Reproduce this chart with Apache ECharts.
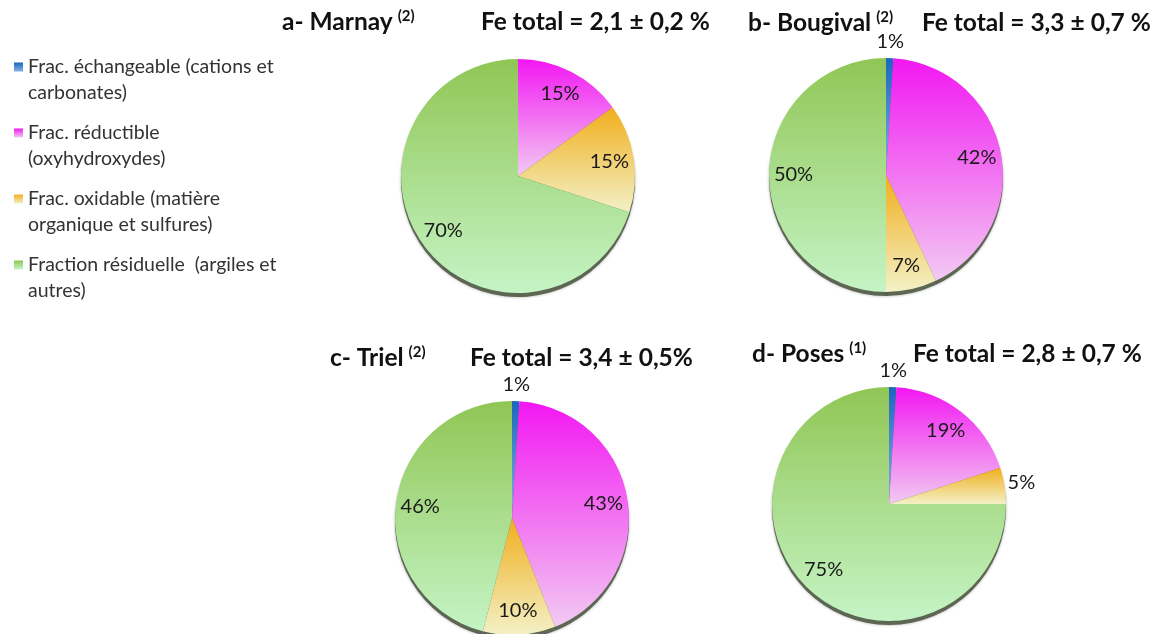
<!DOCTYPE html>
<html><head><meta charset="utf-8">
<script src="https://cdn.jsdelivr.net/npm/echarts@6/dist/echarts.min.js"></script>
<style>html,body{margin:0;padding:0;background:#fff}#c{width:1155px;height:634px}</style>
</head><body><div id="c"></div>
<script>
// ---- data ----
const categories = [
  'Frac. échangeable (cations et\ncarbonates)',
  'Frac. réductible\n(oxyhydroxydes)',
  'Frac. oxidable (matière\norganique et sulfures)',
  'Fraction résiduelle  (argiles et\nautres)'
];
const siteNames = ['a- Marnay', 'b- Bougival', 'c- Triel', 'd- Poses'];
const siteRefs = ['(2)', '(2)', '(2)', '(1)'];
const feTotals = ['Fe total = 2,1 ± 0,2 %', 'Fe total = 3,3 ± 0,7 %', 'Fe total = 3,4 ± 0,5%', 'Fe total = 2,8 ± 0,7 %'];
const marnay = [0, 15, 15, 70];
const bougival = [1, 42, 7, 50];
const triel = [1, 43, 10, 46];
const poses = [1, 19, 5, 75];
const siteValues = [marnay, bougival, triel, poses];

// ---- layout / style ----
const centers = [[518, 176], [886, 175], [512, 518], [889, 504]];
const nameTitlePos = [[282, 9], [748, 10], [330, 345], [752, 341]];
const feTitlePos = [[481, 9], [922, 10], [470, 345], [913, 341]];
const R = 117;
const gradStops = [
  ['#1a66be', '#86b2e6'],
  ['#f217f2', '#f2caf2'],
  ['#f0ae1c', '#f3f1c6'],
  ['#90c655', '#c5f4c5']
];
function grad(i) {
  return new echarts.graphic.LinearGradient(0, 0, 0, 1, [
    { offset: 0, color: gradStops[i][0] },
    { offset: 1, color: gradStops[i][1] }
  ]);
}
const FONT = 'Lato';
const TITLE_SIZE = 24.5;

const titles = [];
const series = [];
siteValues.forEach((vals, s) => {
  titles.push({
    text: '{n|' + siteNames[s] + '} {s|' + siteRefs[s] + '}',
    left: nameTitlePos[s][0], top: nameTitlePos[s][1], padding: 0,
    textStyle: {
      rich: {
        n: { fontFamily: FONT, fontWeight: 'bold', fontSize: TITLE_SIZE, color: '#111', lineHeight: 26 },
        s: { fontFamily: FONT, fontWeight: 'bold', fontSize: 15, color: '#111', verticalAlign: 'top', lineHeight: 16 }
      }
    }
  });
  titles.push({
    text: feTotals[s],
    left: feTitlePos[s][0], top: feTitlePos[s][1], padding: 0,
    textStyle: { fontFamily: FONT, fontWeight: 'bold', fontSize: TITLE_SIZE, color: '#111', lineHeight: 26 }
  });
  const c = centers[s];
  // shadow disc
  series.push({
    type: 'pie', silent: true, animation: false, z: 1,
    center: [c[0], c[1] + 4], radius: R, startAngle: 90, clockwise: true,
    label: { show: false }, labelLine: { show: false },
    itemStyle: { color: '#5c6652', borderWidth: 0, shadowBlur: 3, shadowColor: 'rgba(0,0,0,0.35)' },
    data: vals.map(v => ({ value: v }))
  });
  // main pie
  series.push({
    type: 'pie', silent: true, animation: false, z: 2,
    center: c, radius: R, startAngle: 90, clockwise: true,
    label: { show: false }, labelLine: { show: false },
    itemStyle: { borderWidth: 0, borderRadius: 0 },
    data: vals.map((v, i) => ({ name: categories[i], value: v, itemStyle: { color: grad(i) } }))
  });
  // inner labels
  series.push({
    type: 'pie', silent: true, animation: false, z: 3,
    center: c, radius: [62, R], startAngle: 90, clockwise: true,
    itemStyle: { color: 'rgba(0,0,0,0)', borderWidth: 0 },
    labelLine: { show: false },
    label: { position: 'inside', formatter: '{c}%', fontFamily: FONT, fontSize: 20, color: '#1a1a1a' },
    data: vals.map((v, i) => ({ name: 'in' + i, value: v, label: { show: v > 5 } }))
  });
  // outer labels (small slices)
  series.push({
    type: 'pie', silent: true, animation: false, z: 3,
    center: c, radius: [R + 2, R + 26], startAngle: 90, clockwise: true,
    itemStyle: { color: 'rgba(0,0,0,0)', borderWidth: 0 },
    labelLine: { show: false },
    label: { position: 'inside', formatter: '{c}%', fontFamily: FONT, fontSize: 20, color: '#1a1a1a' },
    data: vals.map((v, i) => ({ name: 'out' + i, value: v, label: { show: v > 0 && v <= 5 } }))
  });
});

const chart = echarts.init(document.getElementById('c'), null, { renderer: 'canvas' });
chart.setOption({
  backgroundColor: '#fff',
  animation: false,
  title: titles,
  legend: {
    orient: 'vertical', left: 14, top: 28, padding: 0,
    itemWidth: 9, itemHeight: 9, itemGap: -12, icon: 'rect',
    selectedMode: false,
    data: categories,
    formatter: name => '\n' + name,
    textStyle: { fontFamily: FONT, fontSize: 19.5, color: '#333', lineHeight: 26 }
  },
  series: series
});
</script>
</body></html>
